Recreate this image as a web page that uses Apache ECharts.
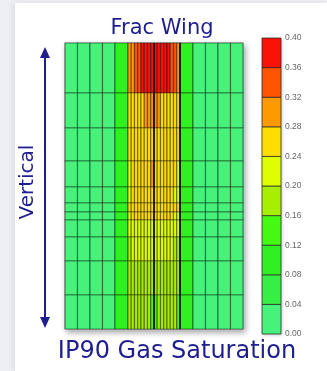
<!DOCTYPE html>
<html>
<head>
<meta charset="utf-8">
<script src="https://cdn.jsdelivr.net/npm/echarts@6/dist/echarts.min.js"></script>
<style>
html,body{margin:0;padding:0;width:327px;height:371px;overflow:hidden;background:#eeeef5;}
#card{position:absolute;left:15px;top:3px;right:0;bottom:0;background:#fff;box-shadow:-2px 0 6px rgba(60,60,120,0.10);}
#chart{position:absolute;left:0;top:0;width:327px;height:371px;filter:blur(0.45px);}
</style>
</head>
<body>
<div id="card"></div>
<div id="chart"></div>
<script>
// ---- data ----
// cell widths (ft) across the section, left to right
const colWidths = [50,50,50,50,52, 13,13,13,13,13,13,13,13, 13,13,13,13,13,13,13,13, 52,50,50,50,50];
// cell heights (ft), top to bottom
const rowHeights = [50,35,33,26,16,9,8,17,24,34,34];
// gas saturation per row (26 cells each)
const satRow0  = [0.02,0.02,0.02,0.02,0.10, 0.30,0.31,0.33,0.34,0.37,0.38,0.38,0.37, 0.38,0.38,0.37,0.37,0.36,0.34,0.33,0.31, 0.10,0.02,0.02,0.02,0.02];
const satRow1  = [0.02,0.02,0.02,0.02,0.10, 0.25,0.26,0.26,0.27,0.27,0.28,0.29,0.30, 0.29,0.28,0.27,0.26,0.26,0.26,0.25,0.25, 0.10,0.02,0.02,0.02,0.02];
const satRow2  = [0.02,0.02,0.02,0.02,0.10, 0.24,0.25,0.25,0.25,0.26,0.26,0.27,0.27, 0.27,0.26,0.25,0.25,0.25,0.25,0.24,0.24, 0.10,0.02,0.02,0.02,0.02];
const satRow3  = [0.02,0.02,0.02,0.02,0.10, 0.23,0.24,0.24,0.25,0.25,0.25,0.26,0.28, 0.27,0.25,0.25,0.24,0.24,0.24,0.24,0.23, 0.10,0.02,0.02,0.02,0.02];
const satRow4  = [0.02,0.02,0.02,0.02,0.10, 0.23,0.24,0.24,0.24,0.24,0.25,0.25,0.27, 0.26,0.25,0.24,0.24,0.24,0.24,0.23,0.23, 0.10,0.02,0.02,0.02,0.02];
const satRow5  = [0.02,0.02,0.02,0.02,0.10, 0.24,0.25,0.25,0.25,0.26,0.26,0.26,0.27, 0.27,0.26,0.26,0.25,0.25,0.25,0.24,0.24, 0.10,0.02,0.02,0.02,0.02];
const satRow6  = [0.02,0.02,0.02,0.02,0.10, 0.23,0.24,0.24,0.24,0.25,0.25,0.25,0.26, 0.26,0.25,0.25,0.24,0.24,0.24,0.23,0.23, 0.10,0.02,0.02,0.02,0.02];
const satRow7  = [0.02,0.02,0.02,0.02,0.10, 0.21,0.22,0.21,0.22,0.21,0.22,0.22,0.23, 0.23,0.22,0.22,0.21,0.22,0.21,0.21,0.20, 0.10,0.02,0.02,0.02,0.02];
const satRow8  = [0.02,0.02,0.02,0.02,0.10, 0.19,0.20,0.21,0.20,0.21,0.20,0.21,0.20, 0.20,0.21,0.20,0.21,0.20,0.20,0.19,0.19, 0.10,0.02,0.02,0.02,0.02];
const satRow9  = [0.02,0.02,0.02,0.02,0.10, 0.17,0.18,0.19,0.18,0.19,0.18,0.19,0.17, 0.18,0.19,0.18,0.19,0.18,0.18,0.17,0.17, 0.10,0.02,0.02,0.02,0.02];
const satRow10 = [0.02,0.02,0.02,0.02,0.10, 0.16,0.17,0.18,0.17,0.18,0.17,0.16,0.15, 0.15,0.17,0.18,0.17,0.17,0.16,0.16,0.15, 0.10,0.02,0.02,0.02,0.02];
const satRows = [satRow0,satRow1,satRow2,satRow3,satRow4,satRow5,satRow6,satRow7,satRow8,satRow9,satRow10];
// fracture planes (ft from left)
const fracLines = [356, 460];
// colour scale
const scaleTicks = [0.00,0.04,0.08,0.12,0.16,0.20,0.24,0.28,0.32,0.36,0.40];
const binColors = ['#46f27a','#36ee44','#30f022','#44fa10','#a8ee00','#ddff00','#ffdd00','#ff9900','#ff5500','#f81208'];
const titleTop = 'Frac Wing';
const titleBottom = 'IP90 Gas Saturation';
const sideLabel = 'Vertical';

// ---- build ----
const xEdges = [0]; colWidths.forEach(w => xEdges.push(xEdges[xEdges.length-1] + w));
const yEdges = [0]; rowHeights.forEach(h => yEdges.push(yEdges[yEdges.length-1] + h));
const cells = [];
satRows.forEach((row, r) => row.forEach((v, c) => {
  cells.push([xEdges[c], xEdges[c+1], yEdges[r], yEdges[r+1], v]);
}));
const bins = binColors.map((col, i) => [scaleTicks[i], scaleTicks[i+1], i]);
const pieces = binColors.map((col, i) => ({gte: scaleTicks[i], lt: scaleTicks[i+1], color: col}));
pieces[pieces.length-1].lte = scaleTicks[scaleTicks.length-1]; delete pieces[pieces.length-1].lt;

const navy = '#1e1e8e';
const chart = echarts.init(document.getElementById('chart'), null, {renderer: 'canvas'});
chart.setOption({
  backgroundColor: 'transparent',
  animation: false,
  grid: [
    {left: 65, top: 43, width: 178, height: 286, show: true, backgroundColor: '#fff', borderColor: '#999', borderWidth: 1,
     shadowBlur: 6, shadowColor: 'rgba(0,0,0,0.35)', shadowOffsetX: 2, shadowOffsetY: 3},
    {left: 262, top: 38, width: 19, height: 296, show: true, backgroundColor: '#fff', borderWidth: 0,
     shadowBlur: 3, shadowColor: 'rgba(0,0,0,0.25)', shadowOffsetX: 1, shadowOffsetY: 1}
  ],
  xAxis: [
    {gridIndex: 0, type: 'value', min: 0, max: xEdges[xEdges.length-1], show: false},
    {gridIndex: 1, type: 'value', min: 0, max: 1, show: false}
  ],
  yAxis: [
    {gridIndex: 0, type: 'value', min: 0, max: yEdges[yEdges.length-1], inverse: true, show: false},
    {gridIndex: 1, type: 'value', min: 0, max: 0.4, interval: 0.04, position: 'right',
     axisLine: {show: false}, axisTick: {show: false}, splitLine: {show: false},
     axisLabel: {show: true, margin: 4, fontSize: 8.5, color: '#666', fontFamily: 'Liberation Sans, Arial, sans-serif',
       formatter: v => v.toFixed(2)}}
  ],
  visualMap: {type: 'piecewise', show: false, seriesIndex: 0, dimension: 4, pieces: pieces},
  series: [
    {
      type: 'custom', xAxisIndex: 0, yAxisIndex: 0, data: cells,
      encode: {x: [0, 1], y: [2, 3]},
      renderItem: (params, api) => {
        const p0 = api.coord([api.value(0), api.value(2)]);
        const p1 = api.coord([api.value(1), api.value(3)]);
        return {type: 'rect',
          shape: {x: Math.min(p0[0], p1[0]), y: Math.min(p0[1], p1[1]), width: Math.abs(p1[0]-p0[0]), height: Math.abs(p1[1]-p0[1])},
          style: {fill: api.visual('color'), stroke: 'rgba(0,0,0,0.42)', lineWidth: 1.2}};
      }
    },
    {
      type: 'custom', xAxisIndex: 0, yAxisIndex: 0, data: fracLines.map(x => [x]), silent: true,
      renderItem: (params, api) => {
        const a = api.coord([api.value(0), 0]);
        const b = api.coord([api.value(0), yEdges[yEdges.length-1]]);
        return {type: 'line', shape: {x1: a[0], y1: a[1], x2: b[0], y2: b[1]}, style: {stroke: 'rgba(0,0,0,0.8)', lineWidth: 2}};
      }
    },
    {
      type: 'custom', xAxisIndex: 1, yAxisIndex: 1, data: bins,
      renderItem: (params, api) => {
        const p0 = api.coord([0, api.value(0)]);
        const p1 = api.coord([1, api.value(1)]);
        return {type: 'rect',
          shape: {x: p0[0], y: Math.min(p0[1], p1[1]), width: p1[0]-p0[0], height: Math.abs(p1[1]-p0[1])},
          style: {fill: binColors[api.value(2)], stroke: 'rgba(40,40,40,0.75)', lineWidth: 1}};
      }
    }
  ],
  graphic: [
    {type: 'text', x: 162, y: 29, style: {text: titleTop, fill: navy, font: '500 21px "DejaVu Sans", sans-serif', textAlign: 'center', textVerticalAlign: 'middle'}},
    {type: 'text', x: 177, y: 352, style: {text: titleBottom, fill: navy, font: '500 24px "DejaVu Sans", sans-serif', textAlign: 'center', textVerticalAlign: 'middle'}},
    {type: 'text', x: 28, y: 182, rotation: Math.PI/2, style: {text: sideLabel, fill: navy, font: '500 20px "DejaVu Sans", sans-serif', textAlign: 'center', textVerticalAlign: 'middle'}},
    {type: 'line', shape: {x1: 45, y1: 55, x2: 45, y2: 320}, style: {stroke: navy, lineWidth: 2}},
    {type: 'polygon', shape: {points: [[45, 47], [40, 58], [50, 58]]}, style: {fill: navy}},
    {type: 'polygon', shape: {points: [[45, 328], [40, 317], [50, 317]]}, style: {fill: navy}}
  ]
});
</script>
</body>
</html>
